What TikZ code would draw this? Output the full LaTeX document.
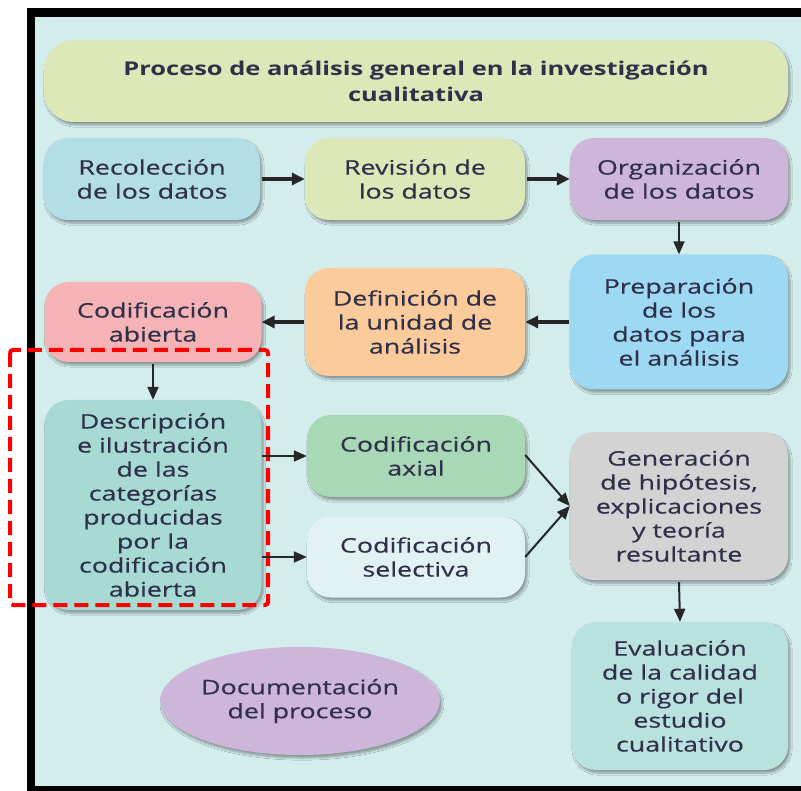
\documentclass[tikz,border=0pt]{standalone}
\usepackage{fontspec}
\setmainfont{Open Sans}[FakeStretch=1.34, FakeBold=0.4, BoldFeatures={FakeBold=0}]
\usetikzlibrary{arrows.meta,shadows.blur,shapes.geometric}
\definecolor{bgc}{HTML}{D3ECEC}
\definecolor{txt}{HTML}{30304A}
\definecolor{cyel}{HTML}{DDE8B8}
\definecolor{crec}{HTML}{B4DEE5}
\definecolor{corg}{HTML}{CDB6D9}
\definecolor{cprep}{HTML}{9DD9F3}
\definecolor{cdef}{HTML}{FCCB9B}
\definecolor{cabi}{HTML}{F5B3B6}
\definecolor{cdesc}{HTML}{A6DAD3}
\definecolor{caxi}{HTML}{A8D8B5}
\definecolor{csel}{HTML}{E1F2F4}
\definecolor{cgen}{HTML}{D3D3D3}
\definecolor{ceva}{HTML}{B9E1DD}
\begin{document}
\begin{tikzpicture}[x=1pt,y=-1pt,
  box/.style={rounded corners=24pt, text=txt, align=center, inner sep=0pt,
    font=\fontsize{20}{24}\selectfont,
    blur shadow={shadow xshift=2pt, shadow yshift=-3pt, shadow blur steps=6, shadow opacity=35}},
  fatarrow/.style={line width=3.5pt, -{Triangle[length=13pt,width=12pt]}, black!85},
  thinarrow/.style={line width=2pt, -{Triangle[length=13pt,width=11pt]}, black!85}]
\useasboundingbox (0,0) rectangle (801,791);
\fill[white] (0,0) rectangle (801,791);
\fill[bgc] (31,12) rectangle (801,788);
\fill[black] (27,8) rectangle (801,17);
\fill[black] (27,8) rectangle (35,791);
\fill[black] (27,786) rectangle (801,791);

\node[box, fill=cyel, rounded corners=30pt, minimum width=744pt, minimum height=82pt,
  font=\fontsize{19}{26}\selectfont\bfseries] (title) at (416,81)
  {Proceso de análisis general en la investigación\\cualitativa};

\node[box, fill=crec, minimum width=216pt, minimum height=82pt] (rec) at (152,179) {Recolección\\de los datos};
\node[box, fill=cyel, minimum width=220pt, minimum height=82pt] (rev) at (415,179) {Revisión de\\los datos};
\node[box, fill=corg, minimum width=218pt, minimum height=82pt] (org) at (679,179) {Organización\\de los datos};

\node[box, fill=cprep, minimum width=218pt, minimum height=135pt] (prep) at (679,322) {Preparación\\de los\\datos para\\el análisis};
\node[box, fill=cdef, minimum width=220pt, minimum height=108pt] (def) at (415,322) {Definición de\\la unidad de\\análisis};
\node[box, fill=cabi, minimum width=217pt, minimum height=80pt] (abi) at (153,322) {Codificación\\abierta};

\node[box, fill=cdesc, minimum width=217pt, minimum height=210pt] (desc) at (153,505) {Descripción\\e ilustración\\de las\\categorías\\producidas\\por la\\codificación\\abierta};
\node[box, fill=caxi, minimum width=218pt, minimum height=82pt] (axi) at (416,456) {Codificación\\axial};
\node[box, fill=csel, minimum width=218pt, minimum height=81pt] (sel) at (416,557) {Codificación\\selectiva};
\node[box, fill=cgen, minimum width=218pt, minimum height=148pt] (gen) at (679,506) {Generación\\de hipótesis,\\explicaciones\\y teoría\\resultante};
\node[box, fill=ceva, minimum width=216pt, minimum height=148pt] (eva) at (680,696) {Evaluación\\de la calidad\\o rigor del\\estudio\\cualitativo};
\node[box, ellipse, fill=corg, minimum width=276pt, minimum height=108pt] (doc) at (300,701) {Documentación\\del proceso};

\draw[red, line width=4pt, dash pattern=on 14pt off 7pt, rounded corners=3pt] (10,350) rectangle (268,605);

\draw[fatarrow] (rec.east) ++(2,0) -- (rev.west);
\draw[fatarrow] (rev.east) ++(2,0) -- (org.west);
\draw[thinarrow] (org.south) ++(0,2) -- (prep.north);
\draw[fatarrow] (prep.west) ++(-1,0) -- (def.east);
\draw[fatarrow] (def.west) ++(-1,0) -- (abi.east);
\draw[thinarrow] (abi.south) ++(0,2) -- (desc.north);
\draw[thinarrow] (desc.east |- axi.west) -- (axi.west);
\draw[thinarrow] (desc.east |- sel.west) -- (sel.west);
\coordinate (genin) at (gen.west);
\draw[thinarrow] (axi.east) ++(0,-1) -- (genin);
\draw[thinarrow] (sel.east) ++(0,0) -- (genin);
\draw[thinarrow] (gen.south) ++(0,2) -- (eva.north);
\end{tikzpicture}
\end{document}
